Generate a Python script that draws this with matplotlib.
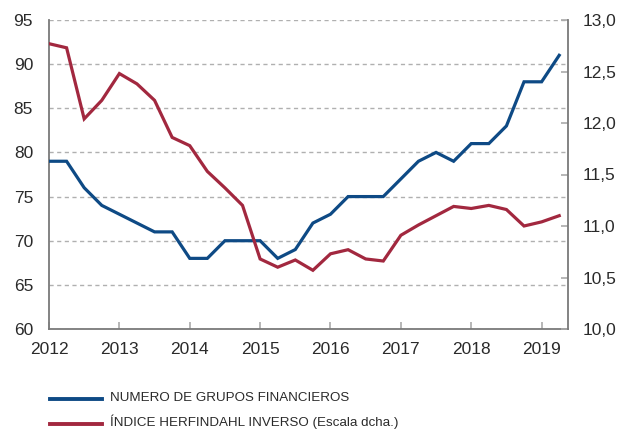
import matplotlib
matplotlib.use("Agg")
import matplotlib.pyplot as plt
from matplotlib.lines import Line2D
import numpy as np

plt.rcParams['font.family'] = ['Liberation Sans', 'DejaVu Sans']

# quarterly dates 2012Q1 .. 2019Q2 (as fractional years)
dates = [2012 + q / 4 for q in range(30)]
grupos = [79, 79, 76, 74, 73, 72, 71, 71, 68, 68, 70, 70, 70, 68, 69, 72,
          73, 75, 75, 75, 77, 79, 80, 79, 81, 81, 83, 88, 88, 91]
herfindahl = [12.77, 12.73, 12.04, 12.22, 12.48, 12.38, 12.22, 11.86, 11.78, 11.53,
              11.37, 11.20, 10.68, 10.60, 10.67, 10.57, 10.73, 10.77, 10.68, 10.66,
              10.91, 11.01, 11.10, 11.19, 11.17, 11.20, 11.16, 11.00, 11.04, 11.10]
year_ticks = list(range(2012, 2020))
left_ticks = [60, 65, 70, 75, 80, 85, 90, 95]
right_ticks = [10.0, 10.5, 11.0, 11.5, 12.0, 12.5, 13.0]
labels = ["NUMERO DE GRUPOS FINANCIEROS", "ÍNDICE HERFINDAHL INVERSO (Escala dcha.)"]

BLUE = "#0e4a85"
RED = "#a2283f"
SPINE = "#7a7a7a"
TXT = "#2a2a2a"

fig = plt.figure(figsize=(6.19, 4.30), dpi=100)
ax = fig.add_axes([49 / 619, 1 - 329 / 430, (568 - 49) / 619, (329 - 20) / 430])
ax2 = ax.twinx()

ax.plot(dates, grupos, color=BLUE, lw=2.3, solid_joinstyle='miter', zorder=3)
ax2.plot(dates, herfindahl, color=RED, lw=2.3, solid_joinstyle='miter', zorder=3)

ax.set_xlim(2012, 2019.375)
ax.set_ylim(60, 95)
ax2.set_ylim(10, 13)
ax.set_yticks(left_ticks)
ax.set_yticklabels([str(t) for t in left_ticks])
ax2.set_yticks(right_ticks)
ax2.set_yticklabels([f"{t:.1f}".replace('.', ',') for t in right_ticks])
ax.set_xticks(year_ticks)
ax.set_xticklabels([str(y) for y in year_ticks])

ax.grid(axis='y', linestyle=(0, (3, 2.5)), color='#b0b0b0', lw=1.0)
ax.set_axisbelow(True)

for a in (ax, ax2):
    a.spines['top'].set_visible(False)
    for s in ('left', 'right', 'bottom'):
        a.spines[s].set_color(SPINE)
        a.spines[s].set_linewidth(1.3)
ax.spines['right'].set_visible(False)
ax2.spines['left'].set_visible(False)
ax2.spines['bottom'].set_visible(False)

ax.tick_params(axis='y', length=0, pad=11.5, labelsize=12.5, labelcolor=TXT)
ax.tick_params(axis='x', direction='in', length=5, width=1.2, color='#aaaaaa',
               pad=9, labelsize=12.5, labelcolor=TXT)
ax2.tick_params(axis='y', direction='in', length=5, width=1.2, color='#aaaaaa',
                pad=10.5, labelsize=12.5, labelcolor=TXT)

# legend below the chart
for i, (lab, col) in enumerate(zip(labels, [BLUE, RED])):
    y = 1 - (399 + 25 * i) / 430
    fig.add_artist(Line2D([50 / 619, 102 / 619], [y, y], color=col, lw=2.8,
                          transform=fig.transFigure))
    ty = 1 - (398 + 24 * i) / 430
    fig.text(110 / 619, ty, lab, va='center', ha='left', fontsize=9.6,
             color=TXT)

fig.savefig("out.png", dpi=100)
